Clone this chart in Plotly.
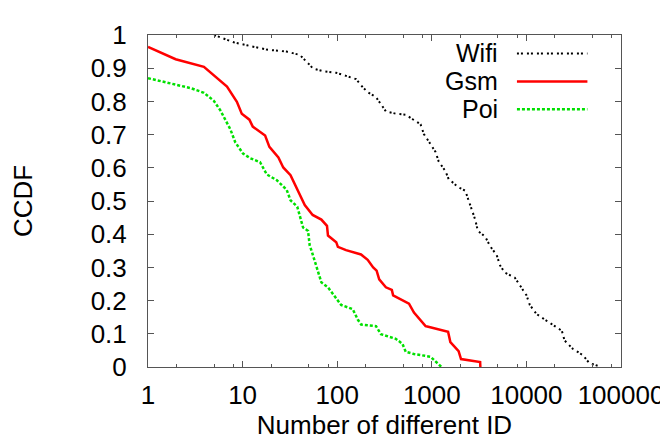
import plotly.graph_objects as go

# ---- data ----
wifi_x = [5.0, 5.82, 8.05, 11.1, 18, 29.2, 40.2, 47.3, 55.6, 70.8, 97.7, 124, 158, 186, 210, 257,
          306, 327, 416, 530, 622, 761, 824, 931, 1094, 1183, 1393, 1507, 1920, 2259, 2445, 2655,
          2876, 3069, 3664, 4134, 4853, 5260, 5934, 7550, 8530, 10020, 10870, 12760, 15600, 19870,
          23700, 25290, 30900, 39340, 46240, 58900, 60000]
wifi_y = [1.0, 0.993, 0.978, 0.969, 0.956, 0.950, 0.940, 0.920, 0.899, 0.891, 0.886, 0.877, 0.867,
          0.843, 0.828, 0.813, 0.784, 0.770, 0.763, 0.760, 0.747, 0.731, 0.702, 0.677, 0.648, 0.619,
          0.590, 0.566, 0.541, 0.531, 0.502, 0.473, 0.444, 0.410, 0.393, 0.364, 0.337, 0.306, 0.284,
          0.269, 0.245, 0.216, 0.187, 0.160, 0.143, 0.123, 0.109, 0.080, 0.055, 0.036, 0.012, 0.002, 0.0]

gsm_x = [1, 1.96, 3.9, 6.84, 8.7, 9.8, 11.8, 12.8, 17.3, 19.2, 23.9, 26.9, 32.1, 35.7, 43.6, 45.4,
         55, 68, 78, 79.9, 97.7, 101.7, 124, 178.5, 210, 240, 261, 278, 327, 378, 390, 574, 648,
         743, 859, 895, 1486, 1571, 1920, 2037, 3243, 3260]
gsm_y = [0.964, 0.927, 0.904, 0.845, 0.799, 0.763, 0.745, 0.724, 0.697, 0.663, 0.631, 0.601, 0.578,
         0.551, 0.502, 0.488, 0.458, 0.444, 0.425, 0.396, 0.376, 0.362, 0.352, 0.339, 0.323, 0.300,
         0.290, 0.264, 0.240, 0.232, 0.216, 0.191, 0.164, 0.143, 0.123, 0.122, 0.106, 0.075, 0.048,
         0.024, 0.015, 0.0]

poi_x = [1, 2.82, 3.9, 4.96, 5.82, 6.73, 7.42, 8.36, 10.1, 12, 15.3, 18, 22.9, 29.2, 32.1, 37.8,
         43.6, 49.2, 51.2, 53.3, 57.8, 62.7, 68, 79.9, 90, 110, 146, 165, 179, 257, 290, 416, 489,
         530, 648, 969, 1094, 1265]
poi_y = [0.870, 0.840, 0.826, 0.802, 0.773, 0.736, 0.716, 0.677, 0.643, 0.629, 0.617, 0.580, 0.563,
         0.534, 0.502, 0.483, 0.420, 0.410, 0.366, 0.352, 0.318, 0.289, 0.255, 0.240, 0.221, 0.187,
         0.174, 0.143, 0.128, 0.123, 0.099, 0.085, 0.070, 0.046, 0.039, 0.031, 0.017, 0.0]

x_tickvals = [1, 10, 100, 1000, 10000, 100000]
x_ticktext = ["1", "10", "100", "1000", "10000", "100000"]
x_minor = [m * 10 ** k for k in range(5) for m in (2, 5, 8)]
y_tickvals = [0, 0.1, 0.2, 0.3, 0.4, 0.5, 0.6, 0.7, 0.8, 0.9, 1]
y_ticktext = ["0", "0.1", "0.2", "0.3", "0.4", "0.5", "0.6", "0.7", "0.8", "0.9", "1"]

series_names = ["Wifi", "Gsm", "Poi"]
series_colors = ["#000000", "#ff0000", "#00e000"]
series_dash = ["2px,2px,2px,4px", "solid", "3px,2px"]
series_width = [2, 2.5, 2.5]

FONT = "Liberation Sans, Arial, sans-serif"
AX = "#555555"

fig = go.Figure()
for name, xs, ys, c, d, w in zip(series_names, [wifi_x, gsm_x, poi_x], [wifi_y, gsm_y, poi_y],
                                  series_colors, series_dash, series_width):
    fig.add_trace(go.Scatter(x=xs, y=ys, mode="lines", name=name,
                             line=dict(color=c, dash=d, width=w), showlegend=False))

# gnuplot-style legend: text on the left, sample line on the right
legend_y = [0.9446, 0.860, 0.776]
for name, c, d, w, yy in zip(series_names, series_colors, series_dash, series_width, legend_y):
    fig.add_annotation(xref="paper", yref="paper", x=0.743, y=yy, text=name, showarrow=False,
                       xanchor="right", yanchor="middle", borderpad=0,
                       font=dict(family=FONT, size=25, color="black"))
    fig.add_shape(type="line", xref="paper", yref="paper", x0=0.780, x1=0.929, y0=yy, y1=yy,
                  line=dict(color=c, dash=d, width=w))

fig.update_layout(
    width=668, height=441,
    margin=dict(l=140, r=50, t=16, b=82),
    paper_bgcolor="white", plot_bgcolor="white",
    font=dict(family=FONT, size=26, color="black"),
    showlegend=False,
)
fig.update_xaxes(
    type="log", range=[0, 5],
    tickmode="array", tickvals=x_tickvals, ticktext=x_ticktext,
    ticks="inside", ticklen=6, tickwidth=1, tickcolor=AX,
    minor=dict(tickmode="array", tickvals=x_minor, ticks="inside", ticklen=3, tickwidth=1, tickcolor=AX, showgrid=False),
    showline=True, linecolor=AX, linewidth=1, mirror="allticks",
    showgrid=False, zeroline=False,
    ticklabelstandoff=5,
    title=dict(text="Number of different ID", standoff=2, font=dict(size=26)),
    tickfont=dict(size=26),
)
fig.update_yaxes(
    range=[0, 1],
    tickmode="array", tickvals=y_tickvals, ticktext=y_ticktext,
    ticks="inside", ticklen=6, tickwidth=1, tickcolor=AX,
    showline=True, linecolor=AX, linewidth=1, mirror="allticks",
    showgrid=False, zeroline=False,
    ticklabelstandoff=15,
    title=dict(text="CCDF", standoff=50, font=dict(size=26)),
    tickfont=dict(size=26),
)

fig.write_html("out.html")
